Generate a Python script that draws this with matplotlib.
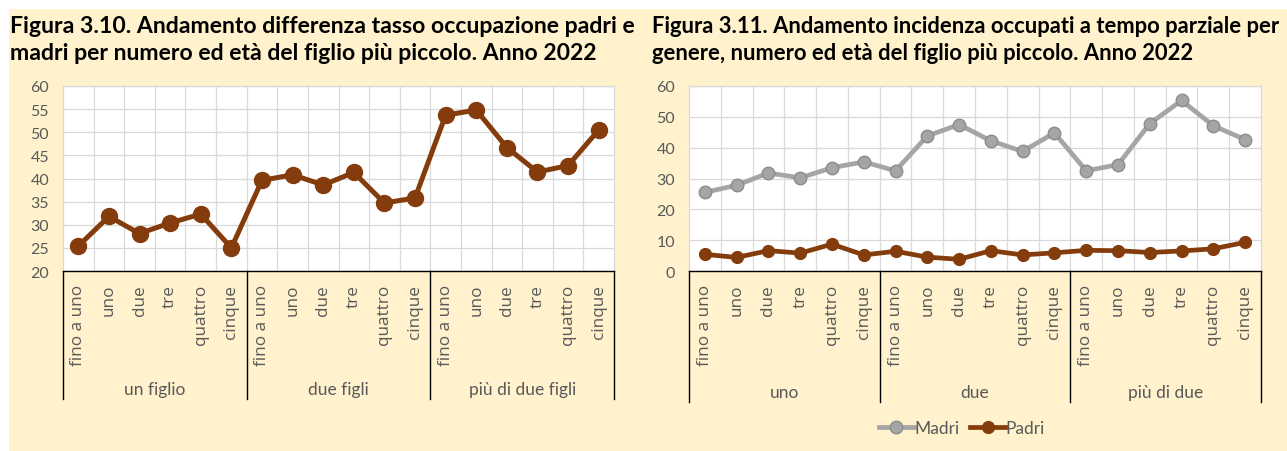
import matplotlib
matplotlib.use("Agg")
import matplotlib.pyplot as plt
from matplotlib.lines import Line2D

# ---------------- data ----------------
ages = ["fino a uno", "uno", "due", "tre", "quattro", "cinque"]
groups_left = ["un figlio", "due figli", "più di due figli"]
groups_right = ["uno", "due", "più di due"]

diff_values = [25.4, 31.8, 28.1, 30.4, 32.3, 25.0,
               39.6, 40.8, 38.6, 41.3, 34.7, 35.8,
               53.7, 54.8, 46.7, 41.4, 42.8, 50.5]

madri = [25.5, 27.8, 31.8, 30.2, 33.5, 35.4,
         32.5, 43.8, 47.5, 42.2, 38.8, 44.8,
         32.5, 34.5, 47.8, 55.3, 47.1, 42.6]
padri = [5.4, 4.4, 6.6, 5.8, 8.7, 5.2,
         6.4, 4.5, 3.8, 6.6, 5.2, 5.9,
         6.7, 6.6, 6.0, 6.5, 7.2, 9.3]

title_left = ["Figura 3.10. Andamento differenza tasso occupazione padri e",
              "madri per numero ed età del figlio più piccolo. Anno 2022"]
title_right = ["Figura 3.11. Andamento incidenza occupati a tempo parziale per",
               "genere, numero ed età del figlio più piccolo. Anno 2022"]

# ---------------- style ----------------
W, H = 1287, 452
BG = "#FFF2CC"
BROWN = "#843C0C"
GREY = "#A5A5A5"
GRID = "#D9D9D9"
TXT = "#595959"

fig = plt.figure(figsize=(W / 100, H / 100), dpi=100)
fig.patch.set_facecolor("white")
fig.patches.append(plt.Rectangle((9 / W, 0), 1 - 9 / W, 1 - 10 / H,
                                 transform=fig.transFigure, facecolor=BG,
                                 edgecolor="none", zorder=-10))


def px_axes(x0, x1, y0, y1):
    return fig.add_axes([x0 / W, 1 - y1 / H, (x1 - x0) / W, (y1 - y0) / H])


def fit_title(lines, x, y_baselines, target_w):
    renderer = fig.canvas.get_renderer()
    fs = 14.0
    t = fig.text(0, 0, lines[0], fontsize=fs, fontweight="bold", family="Lato")
    w = t.get_window_extent(renderer).width
    t.remove()
    fs = fs * target_w / w
    for line, yb in zip(lines, y_baselines):
        fig.text(x / W, 1 - yb / H, line, fontsize=fs, fontweight="bold",
                 family="Lato", color="black", va="baseline", ha="left")


def setup_axis(ax, n_groups, group_labels, ylim, ystep, plot_h,
               group_y_px, div_px):
    n = len(ages) * n_groups
    x = list(range(n))
    ax.set_facecolor("white")
    ax.set_xlim(-0.5, n - 0.5)
    ax.set_ylim(*ylim)
    ax.set_yticks(range(ylim[0], ylim[1] + 1, ystep))
    ax.tick_params(axis="y", length=0, pad=10, labelsize=11.5, labelcolor=TXT)
    for lab in ax.get_yticklabels():
        lab.set_family("Lato")
    ax.set_xticks([i + 0.5 for i in range(n - 1)], minor=True)
    ax.set_xticks([])
    ax.tick_params(axis="x", which="both", length=0)
    ax.grid(True, which="minor", axis="x", color=GRID, lw=0.9)
    ax.grid(True, which="major", axis="y", color=GRID, lw=0.9)
    ax.set_axisbelow(True)
    for s in ("top", "left", "right"):
        ax.spines[s].set_color(GRID)
        ax.spines[s].set_linewidth(0.9)
    ax.spines["bottom"].set_color("black")
    ax.spines["bottom"].set_linewidth(1.0)
    tr = ax.get_xaxis_transform()
    labels = ages * n_groups
    for i, lab in enumerate(labels):
        ax.text(i, -13 / plot_h, lab, rotation=90, ha="center", va="top",
                fontsize=12.3, family="Open Sans", color=TXT, transform=tr)
    for g in range(n_groups + 1):
        xd = g * len(ages) - 0.5
        ax.add_line(Line2D([xd, xd], [0, -div_px / plot_h], transform=tr,
                           color="black", lw=1.0, clip_on=False))
    for g, gl in enumerate(group_labels):
        xc = g * len(ages) + (len(ages) - 1) / 2
        ax.text(xc, -group_y_px / plot_h, gl, ha="center", va="center",
                fontsize=12.5, family="Lato", color=TXT, transform=tr)
    return x


# ---------------- left chart ----------------
axL = px_axes(63, 614, 87, 272)
xl = setup_axis(axL, 3, groups_left, (20, 60), 5, 185, 118, 128)
axL.plot(xl, diff_values, color=BROWN, lw=3.6, marker="o", ms=11.5,
         solid_joinstyle="round", zorder=3)

# ---------------- right chart ----------------
axR = px_axes(689, 1261, 87, 272)
xr = setup_axis(axR, 3, groups_right, (0, 60), 10, 185, 121, 131)
lm, = axR.plot(xr, madri, color=GREY, lw=3.4, marker="o", ms=9,
               mfc=GREY, mec="#8C8C8C", mew=1.0, label="Madri", zorder=3)
lp, = axR.plot(xr, padri, color=BROWN, lw=3.4, marker="o", ms=8.5,
               mfc=BROWN, mec=BROWN, label="Padri", zorder=4)
leg = fig.legend(handles=[lm, lp], loc="center",
                 bbox_to_anchor=(962 / W, 1 - 429 / H), ncol=2, frameon=False,
                 handlelength=2.0, handletextpad=0.05, columnspacing=0.6,
                 prop={"family": "Lato", "size": 12.5})
for t in leg.get_texts():
    t.set_color(TXT)

# ---------------- titles ----------------
fig.canvas.draw()
fit_title(title_left, 10, [33, 60], 627)
fit_title(title_right, 652, [33, 60], 630)

fig.savefig("out.png", dpi=100, facecolor=fig.get_facecolor())
